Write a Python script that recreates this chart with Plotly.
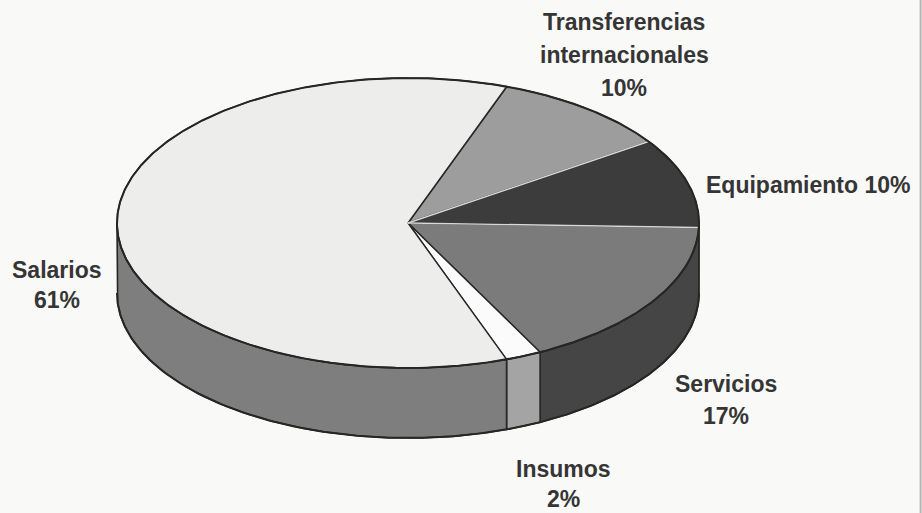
import numpy as np
import plotly.graph_objects as go

# ---------------- data ----------------
categories = ["Transferencias internacionales", "Equipamiento", "Servicios", "Insumos", "Salarios"]
values = [10, 10, 17, 2, 61]
name_lines = [["Transferencias", "internacionales"], ["Equipamiento"], ["Servicios"], ["Insumos"], ["Salarios"]]
pct_same_line = [False, True, False, False, False]

# ---------------- styles / geometry ----------------
top_colors = ["#9d9d9d", "#3c3c3c", "#7b7b7b", "#fbfbfb", "#ededeb"]
side_colors = ["#777777", "#333333", "#454545", "#a4a4a4", "#7e7e7e"]
label_pos = [(624, 22), (808, 185), (726, 384), (563, 469), (57, 270)]
label_step = [33, 32, 32, 30, 30]

CX, CY, A, B, DEPTH = 408, 223, 291, 145, 70
START = 70.2  # degrees, slices run clockwise
OUTLINE = "#262626"
BG = "#f9f9f7"


def ell(t_deg, dy=0.0):
    t = np.radians(t_deg)
    return CX + A * np.cos(t), CY - B * np.sin(t) + dy


fig = go.Figure()

total = float(sum(values))
bounds = []
cum = 0.0
for v in values:
    t0 = START - cum / total * 360.0
    cum += v
    t1 = START - cum / total * 360.0
    bounds.append((t0, t1))

# side faces (front half: t in [-180, 0])
for (t0, t1), col in zip(bounds, side_colors):
    hi, lo = t0, t1
    for shift in (0.0, -360.0, 360.0):
        h = min(hi + shift, 0.0)
        l = max(lo + shift, -180.0)
        if h - l > 0.01:
            ts = np.linspace(h, l, 200)
            xt, yt = ell(ts)
            xb, yb = ell(ts[::-1], DEPTH)
            xs = np.concatenate([xt, xb, xt[:1]])
            ys = np.concatenate([yt, yb, yt[:1]])
            fig.add_trace(go.Scatter(x=xs, y=ys, mode="lines", fill="toself",
                                     fillcolor=col, line=dict(color=OUTLINE, width=1.6),
                                     hoverinfo="skip", showlegend=False))

# top faces
for (t0, t1), col, name in zip(bounds, top_colors, categories):
    ts = np.linspace(t0, t1, 400)
    xa, ya = ell(ts)
    xs = np.concatenate([[CX], xa, [CX]])
    ys = np.concatenate([[CY], ya, [CY]])
    fig.add_trace(go.Scatter(x=xs, y=ys, mode="lines", fill="toself",
                             fillcolor=col, line=dict(color=OUTLINE, width=1.4),
                             name=name, hoverinfo="name", showlegend=False))

# lighter separators between the dark slices
for i in (1, 2):
    t = bounds[i][0]
    xe, ye = ell(t)
    fig.add_trace(go.Scatter(x=[CX, xe], y=[CY, ye], mode="lines",
                             line=dict(color="#d8d8d8", width=1.4),
                             hoverinfo="skip", showlegend=False))

# outer rim outline
ts = np.linspace(0, 360, 721)
xo, yo = ell(ts)
fig.add_trace(go.Scatter(x=xo, y=yo, mode="lines", line=dict(color=OUTLINE, width=2),
                         hoverinfo="skip", showlegend=False))
ts = np.linspace(-180, 0, 361)
xo, yo = ell(ts, DEPTH)
fig.add_trace(go.Scatter(x=xo, y=yo, mode="lines", line=dict(color=OUTLINE, width=2),
                         hoverinfo="skip", showlegend=False))

# labels
annotations = []
for lines, v, same, (lx, ly), step in zip(name_lines, values, pct_same_line, label_pos, label_step):
    if same:
        rows = lines[:-1] + [f"{lines[-1]} {v}%"]
    else:
        rows = lines + [f"{v}%"]
    for k, row in enumerate(rows):
        annotations.append(dict(x=lx, y=ly + k * step, xref="x", yref="y", text=f"<b>{row}</b>",
                                showarrow=False, xanchor="center", yanchor="middle",
                                font=dict(family="Liberation Sans, Arial, sans-serif", size=23,
                                          color="#353535")))

fig.update_layout(
    width=922, height=513,
    margin=dict(l=0, r=0, t=0, b=0),
    paper_bgcolor=BG, plot_bgcolor=BG,
    xaxis=dict(range=[0, 922], visible=False, fixedrange=True),
    yaxis=dict(range=[513, 0], visible=False, fixedrange=True),
    annotations=annotations,
    shapes=[dict(type="line", xref="paper", yref="paper", x0=0.9985, x1=0.9985, y0=0, y1=1,
                 line=dict(color="#b5b5b5", width=2))],
)

fig.write_html("out.html")
